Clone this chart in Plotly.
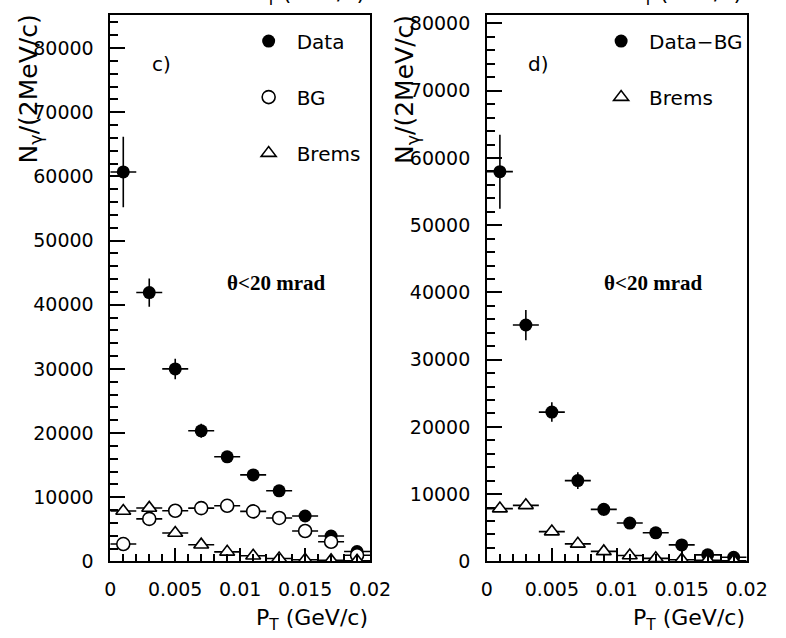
import plotly.graph_objects as go

# ---------------- data ----------------
pt = [0.001, 0.003, 0.005, 0.007, 0.009, 0.011, 0.013, 0.015, 0.017, 0.019]
pt_half_bin = [0.001] * 10

data_c = [60700, 41900, 30000, 20350, 16300, 13480, 11000, 7070, 3950, 1530]
data_c_err = [5500, 2200, 1600, 1100, 800, 450, 350, 300, 250, 200]
bg_c = [2700, 6620, 7890, 8300, 8660, 7790, 6770, 4730, 3050, 950]
brems = [7850, 8330, 4430, 2600, 1480, 880, 450, 250, 150, 100]

data_d = [57960, 35150, 22200, 12010, 7740, 5700, 4250, 2450, 970, 610]
data_d_err = [5500, 2250, 1450, 1250, 950, 550, 400, 500, 250, 200]

x_tickvals = [0, 0.005, 0.01, 0.015, 0.02]
x_ticktext = ["0", "0.005", "0.01", "0.015", "0.02"]
y_tickvals = [0, 10000, 20000, 30000, 40000, 50000, 60000, 70000, 80000]
y_ticktext = [str(v) for v in y_tickvals]

W, H = 786, 638
FONT = "DejaVu Sans"


def px_x(p):
    return p / W


def px_y(p):
    return (H - p) / H


def errs(arr):
    return dict(type="data", array=arr, width=0, thickness=1.6, color="black")


fig = go.Figure()

# left panel (c)
fig.add_trace(go.Scatter(x=pt, y=data_c, mode="markers", name="Data",
                         marker=dict(symbol="circle", size=13, color="black"),
                         error_x=errs(pt_half_bin), error_y=errs(data_c_err),
                         xaxis="x", yaxis="y", legend="legend", legendgroup="a"))
fig.add_trace(go.Scatter(x=pt, y=bg_c, mode="markers", name="BG",
                         marker=dict(symbol="circle", size=13, color="white",
                                     line=dict(color="black", width=1.6)),
                         error_x=errs(pt_half_bin),
                         xaxis="x", yaxis="y", legend="legend", legendgroup="b"))
fig.add_trace(go.Scatter(x=pt, y=brems, mode="markers", name="Brems",
                         marker=dict(symbol="triangle-up", size=13, color="white",
                                     line=dict(color="black", width=1.6)),
                         error_x=errs(pt_half_bin),
                         xaxis="x", yaxis="y", legend="legend", legendgroup="c"))

# right panel (d)
fig.add_trace(go.Scatter(x=pt, y=data_d, mode="markers", name="Data\u2212BG",
                         marker=dict(symbol="circle", size=13, color="black"),
                         error_x=errs(pt_half_bin), error_y=errs(data_d_err),
                         xaxis="x2", yaxis="y2", legend="legend2", legendgroup="d"))
fig.add_trace(go.Scatter(x=pt, y=brems, mode="markers", name="Brems",
                         marker=dict(symbol="triangle-up", size=13, color="white",
                                     line=dict(color="black", width=1.6)),
                         error_x=errs(pt_half_bin),
                         xaxis="x2", yaxis="y2", legend="legend2", legendgroup="e"))

x_common = dict(range=[0, 0.02], tickvals=x_tickvals, ticktext=x_ticktext,
                ticks="inside", ticklen=14, tickwidth=1.5, tickcolor="black",
                minor=dict(dtick=0.001, tick0=0, ticks="inside", ticklen=8,
                           tickwidth=1.5, tickcolor="black"),
                showline=True, linewidth=1.6, linecolor="black", mirror=True,
                showgrid=False, zeroline=False,
                tickfont=dict(family=FONT, size=19, color="black"),
                ticklabelstandoff=10)
y_common = dict(tickvals=y_tickvals, ticktext=y_ticktext,
                ticks="inside", ticklen=15, tickwidth=1.5, tickcolor="black",
                minor=dict(dtick=2000, tick0=0, ticks="inside", ticklen=8,
                           tickwidth=1.5, tickcolor="black"),
                showline=True, linewidth=1.6, linecolor="black", mirror=True,
                showgrid=False, zeroline=False,
                tickfont=dict(family=FONT, size=19, color="black"),
                ticklabelstandoff=11)

ydom = [px_y(571), px_y(13)]

legend_common = dict(xanchor="left", yanchor="top",
                     font=dict(family=FONT, size=20, color="black"),
                     bgcolor="rgba(0,0,0,0)", traceorder="grouped",
                     tracegroupgap=27, itemwidth=46)

fig.update_layout(
    width=W, height=H,
    margin=dict(l=0, r=0, t=0, b=0),
    paper_bgcolor="white", plot_bgcolor="white",
    xaxis=dict(domain=[px_x(108), px_x(377)], anchor="y", **x_common),
    yaxis=dict(domain=ydom, anchor="x", range=[0, 85200], **y_common),
    xaxis2=dict(domain=[px_x(498), px_x(767)], anchor="y2", **x_common),
    yaxis2=dict(domain=ydom, anchor="x2", range=[0, 81300], **y_common),
    legend=dict(x=px_x(243), y=px_y(20), **legend_common),
    legend2=dict(x=px_x(608), y=px_y(20), **legend_common),
)

ann = []
# panel labels
ann.append(dict(text="c)", x=px_x(149), y=px_y(63), xref="paper", yref="paper",
                xanchor="left", yanchor="middle", showarrow=False,
                font=dict(family=FONT, size=20, color="black")))
ann.append(dict(text="d)", x=px_x(539), y=px_y(63), xref="paper", yref="paper",
                xanchor="left", yanchor="middle", showarrow=False,
                font=dict(family=FONT, size=20, color="black")))
# theta cut labels
for cx in (280, 670):
    ann.append(dict(text="<b>\u03b8&lt;20 mrad</b>", x=px_x(cx), y=px_y(287),
                    xref="paper", yref="paper", xanchor="center", yanchor="middle",
                    showarrow=False,
                    font=dict(family="Liberation Serif", size=21, color="black")))
# y titles
for cx in (25, 415):
    ann.append(dict(text="N<sub>\u03b3</sub>/(2MeV/c)", x=px_x(cx), y=px_y(11),
                    xref="paper", yref="paper", xanchor="center", yanchor="top",
                    textangle=-90, showarrow=False,
                    font=dict(family=FONT, size=25, color="black")))
# x titles
for rx in (377, 767):
    ann.append(dict(text="P<sub>T</sub> (GeV/c)", x=px_x(rx), y=px_y(613),
                    xref="paper", yref="paper", xanchor="right", yanchor="top",
                    showarrow=False,
                    font=dict(family=FONT, size=22, color="black")))
# clipped titles of the panels above
for rx in (374, 764):
    ann.append(dict(text="P<sub>T</sub> (GeV/c)", x=px_x(rx), y=px_y(9),
                    xref="paper", yref="paper", xanchor="right", yanchor="bottom",
                    showarrow=False,
                    font=dict(family=FONT, size=22, color="black")))
fig.update_layout(annotations=ann)

fig.write_html("out.html")
